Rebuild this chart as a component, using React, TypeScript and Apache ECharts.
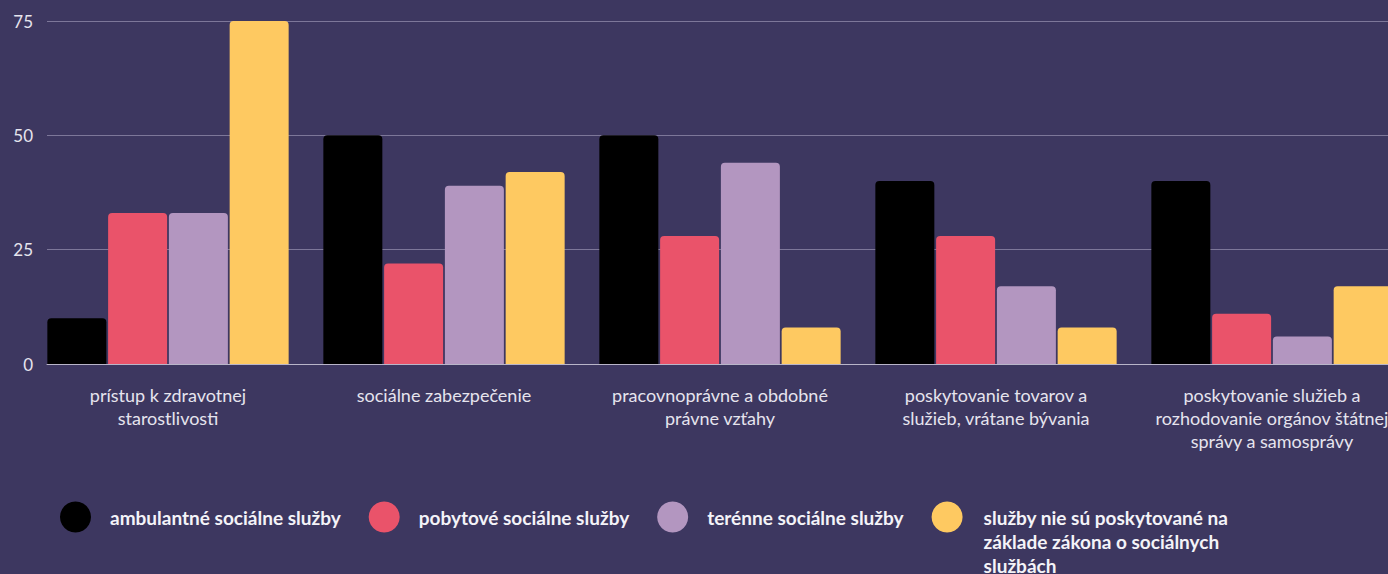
import React, { useEffect, useRef } from "react";
import * as echarts from "echarts";

const categories = [
  "prístup k zdravotnej\nstarostlivosti",
  "sociálne zabezpečenie",
  "pracovnoprávne a obdobné\nprávne vzťahy",
  "poskytovanie tovarov a\nslužieb, vrátane bývania",
  "poskytovanie služieb a\nrozhodovanie orgánov štátnej\nsprávy a samosprávy",
];
const seriesNames = [
  "ambulantné sociálne služby",
  "pobytové sociálne služby",
  "terénne sociálne služby",
  "služby nie sú poskytované na základe zákona o sociálnych službách",
];
const legendLabels = [
  "ambulantné sociálne služby",
  "pobytové sociálne služby",
  "terénne sociálne služby",
  "\n\nslužby nie sú poskytované na\nzáklade zákona o sociálnych\nslužbách",
];
const ambulantne = [10, 50, 50, 40, 40];
const pobytove = [33, 22, 28, 28, 11];
const terenne = [33, 39, 44, 17, 6];
const mimoZakona = [75, 42, 8, 8, 17];
const yTicks = [0, 25, 50, 75];

const colors = ["#000000", "#ea536a", "#b396c0", "#fec961"];
const FONT = "Lato";

export default function App() {
  const ref = useRef<HTMLDivElement>(null);
  useEffect(() => {
    if (!ref.current) return;
    const chart = echarts.init(ref.current, null, { renderer: "svg" });
    const values = [ambulantne, pobytove, terenne, mimoZakona];
    const yMax = yTicks[yTicks.length - 1];
    const legendText = {
      color: "#f4f3f8",
      fontSize: 19,
      fontWeight: "bold",
      fontFamily: FONT,
      lineHeight: 24,
    };
    const option: any = {
      animation: false,
      backgroundColor: "#3d3760",
      textStyle: { fontFamily: FONT },
      grid: [
        { left: 30, top: 21, bottom: 210, width: 1380, containLabel: false },
        { left: 47, top: 21, bottom: 210, width: 1380, containLabel: false },
      ],
      xAxis: [
        {
          type: "category",
          gridIndex: 0,
          data: categories,
          axisLine: { show: false },
          axisTick: { show: false },
          axisLabel: {
            color: "#e6e4ee",
            fontSize: 18,
            fontFamily: FONT,
            lineHeight: 23,
            margin: 19,
            interval: 0,
          },
        },
        {
          type: "value",
          gridIndex: 1,
          min: 0,
          max: 1,
          axisLine: { show: true, lineStyle: { color: "#b9b5c9", width: 1 } },
          axisTick: { show: false },
          axisLabel: { show: false },
          splitLine: { show: false },
          z: 0,
        },
      ],
      yAxis: [
        {
          type: "value",
          gridIndex: 0,
          min: 0,
          max: yMax,
          interval: 25,
          show: false,
        },
        {
          type: "value",
          gridIndex: 1,
          min: 0,
          max: yMax,
          interval: 25,
          axisLine: { show: false },
          axisTick: { show: false },
          axisLabel: {
            color: "#e6e4ee",
            fontSize: 17,
            fontFamily: FONT,
            margin: 14,
          },
          splitLine: { show: true, lineStyle: { color: "#7d7799", width: 1 } },
          z: 0,
        },
      ],
      legend: {
        left: 55,
        top: 452,
        itemWidth: 31,
        itemHeight: 31,
        itemGap: 28,
        icon: "circle",
        textStyle: { ...legendText, padding: [0, 0, 0, 14] },
        data: seriesNames.map((n, i) =>
          i === 3
            ? { name: n, textStyle: { ...legendText, padding: [0, 0, 0, 16] } }
            : { name: n }
        ),
        formatter: (name: string) => legendLabels[seriesNames.indexOf(name)],
      },
      series: seriesNames.map((n, i) => ({
        name: n,
        type: "bar",
        xAxisIndex: 0,
        yAxisIndex: 0,
        data: values[i],
        barWidth: 59,
        barGap: "3%",
        itemStyle: { color: colors[i], borderRadius: [4, 4, 0, 0] },
        z: 2,
      })),
    };
    chart.setOption(option);
    return () => chart.dispose();
  }, []);
  return (
    <div
      style={{
        position: "fixed",
        left: 0,
        top: 0,
        width: 1388,
        height: 574,
        overflow: "hidden",
        background: "#3d3760",
      }}
    >
      <div ref={ref} style={{ width: 1440, height: 574 }} />
    </div>
  );
}
